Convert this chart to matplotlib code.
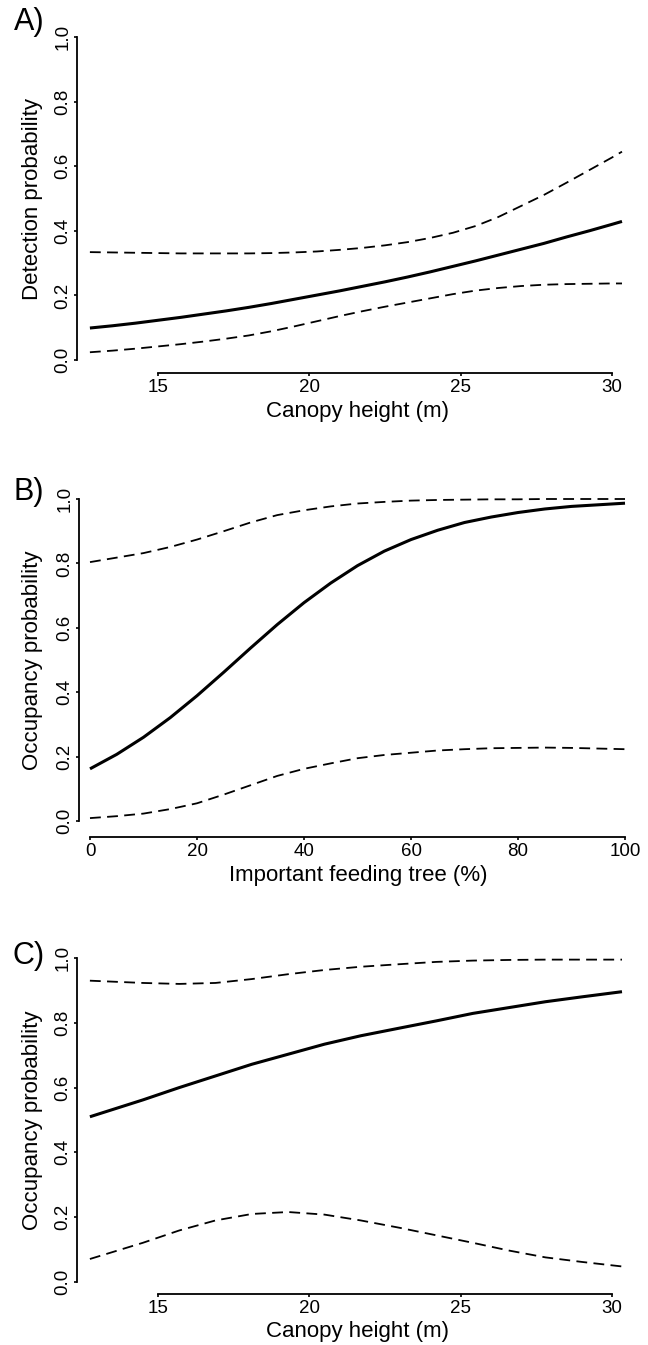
import matplotlib
matplotlib.use("Agg")
import matplotlib.pyplot as plt

plt.rcParams['font.family'] = ['Liberation Sans', 'DejaVu Sans']

# A) detection probability vs canopy height
a_x = [12.75, 13.5, 14.25, 15, 15.75, 16.5, 17.25, 18, 18.75, 19.5, 20.25, 21, 21.75,
       22.5, 23.25, 24, 24.75, 25.5, 26.25, 27, 27.75, 28.5, 29.25, 30, 30.33]
a_mean = [0.099, 0.106, 0.114, 0.123, 0.132, 0.142, 0.152, 0.163, 0.175, 0.188, 0.201, 0.214, 0.228,
          0.242, 0.257, 0.273, 0.290, 0.307, 0.325, 0.343, 0.361, 0.381, 0.400, 0.420, 0.429]
a_upper = [0.334, 0.333, 0.332, 0.331, 0.330, 0.330, 0.330, 0.330, 0.331, 0.333, 0.336, 0.341, 0.347,
           0.355, 0.365, 0.378, 0.394, 0.415, 0.443, 0.477, 0.511, 0.549, 0.588, 0.627, 0.645]
a_lower = [0.024, 0.029, 0.035, 0.042, 0.049, 0.057, 0.066, 0.076, 0.089, 0.104, 0.120, 0.136, 0.151,
           0.165, 0.178, 0.191, 0.204, 0.215, 0.223, 0.229, 0.233, 0.235, 0.236, 0.237, 0.237]

# B) occupancy probability vs important feeding tree
b_x = [0, 5, 10, 15, 20, 25, 30, 35, 40, 45, 50, 55, 60, 65, 70, 75, 80, 85, 90, 95, 100]
b_mean = [0.162, 0.207, 0.260, 0.321, 0.389, 0.462, 0.537, 0.610, 0.678, 0.739, 0.793,
          0.838, 0.874, 0.903, 0.927, 0.944, 0.958, 0.969, 0.977, 0.982, 0.987]
b_upper = [0.804, 0.818, 0.832, 0.851, 0.874, 0.900, 0.927, 0.950, 0.965, 0.977, 0.986,
           0.991, 0.995, 0.997, 0.998, 0.999, 0.999, 1.0, 1.0, 1.0, 1.0]
b_lower = [0.009, 0.015, 0.023, 0.037, 0.055, 0.082, 0.111, 0.140, 0.162, 0.179, 0.195,
           0.205, 0.212, 0.219, 0.223, 0.226, 0.227, 0.228, 0.227, 0.225, 0.223]

# C) occupancy probability vs canopy height
c_x = [12.75, 14.5, 15.7, 16.9, 18.1, 19.3, 20.5, 21.7, 23.0, 24.2, 25.4, 26.6, 27.8, 29.0, 30.33]
c_mean = [0.510, 0.562, 0.600, 0.636, 0.672, 0.703, 0.734, 0.760, 0.784, 0.806, 0.829, 0.847, 0.865, 0.880, 0.896]
c_upper = [0.930, 0.923, 0.920, 0.923, 0.935, 0.950, 0.963, 0.973, 0.981, 0.988, 0.992, 0.994, 0.995, 0.995, 0.995]
c_lower = [0.071, 0.121, 0.159, 0.190, 0.210, 0.216, 0.208, 0.190, 0.167, 0.144, 0.121, 0.097, 0.076, 0.062, 0.048]

y_ticks = [0.0, 0.2, 0.4, 0.6, 0.8, 1.0]
canopy_ticks = [15, 20, 25, 30]
feeding_ticks = [0, 20, 40, 60, 80, 100]

W, H = 648, 1345
fig = plt.figure(figsize=(W / 100, H / 100), dpi=100)

# pixel layout: left, right, y=1 pixel, y=0 pixel, x-axis pixel, two (tick value, pixel) pairs
panels = [
    dict(letter="A)", lpos=22, x=a_x, mean=a_mean, up=a_upper, lo=a_lower,
         ylabel="Detection probability", xlabel="Canopy height (m)", xticks=canopy_ticks,
         left=77, right=640, y1=37, y0=360, xaxis=373, tx=((15, 158), (30, 612))),
    dict(letter="B)", lpos=492, x=b_x, mean=b_mean, up=b_upper, lo=b_lower,
         ylabel="Occupancy probability", xlabel="Important feeding tree (%)", xticks=feeding_ticks,
         left=79, right=640, y1=499, y0=821, xaxis=837, tx=((0, 90), (100, 625))),
    dict(letter="C)", lpos=956, x=c_x, mean=c_mean, up=c_upper, lo=c_lower,
         ylabel="Occupancy probability", xlabel="Canopy height (m)", xticks=canopy_ticks,
         left=77, right=640, y1=958, y0=1282, xaxis=1294, tx=((15, 158), (30, 612))),
]

for p in panels:
    top = p["y1"] - 8
    hpx = p["xaxis"] - top
    wpx = p["right"] - p["left"]
    ax = fig.add_axes([p["left"] / W, 1 - p["xaxis"] / H, wpx / W, hpx / H])
    (va, pa), (vb, pb) = p["tx"]
    ux = (pb - pa) / (vb - va)
    ax.set_xlim(va + (p["left"] - pa) / ux, va + (p["right"] - pa) / ux)
    uy = p["y0"] - p["y1"]
    ax.set_ylim(-(p["xaxis"] - p["y0"]) / uy, 1 + (p["y1"] - top) / uy)

    ax.plot(p["x"], p["mean"], color="black", lw=2.2, solid_capstyle="butt")
    ax.plot(p["x"], p["up"], color="black", lw=1.3, dashes=(6, 3.5))
    ax.plot(p["x"], p["lo"], color="black", lw=1.3, dashes=(6, 3.5))

    for s in ["top", "right"]:
        ax.spines[s].set_visible(False)
    ax.spines["left"].set_bounds(0, 1)
    ax.spines["bottom"].set_bounds(p["xticks"][0], p["xticks"][-1])
    ax.spines["left"].set_linewidth(1.3)
    ax.spines["bottom"].set_linewidth(1.3)

    ax.set_yticks(y_ticks)
    ax.set_yticklabels(["%.1f" % v for v in y_ticks])
    ax.set_xticks(p["xticks"])
    ax.tick_params(direction="out", length=2, width=1.2, labelsize=13.5, pad=2)
    for lbl in ax.get_yticklabels():
        lbl.set_rotation(90)
        lbl.set_va("center")

    ax.set_xlabel(p["xlabel"], fontsize=16)
    ax.set_ylabel(p["ylabel"], fontsize=16)
    ax.yaxis.set_label_coords((33 - p["left"]) / wpx, 1 - ((p["y0"] + p["y1"]) / 2 - top) / hpx)
    ax.xaxis.set_label_coords((358 - p["left"]) / wpx, -38 / hpx)
    ax.xaxis.label.set_va("center")
    ax.yaxis.label.set_va("center")

    fig.text(29 / W, 1 - p["lpos"] / H, p["letter"], fontsize=22, ha="center", va="center")

fig.savefig("out.png", dpi=100)
